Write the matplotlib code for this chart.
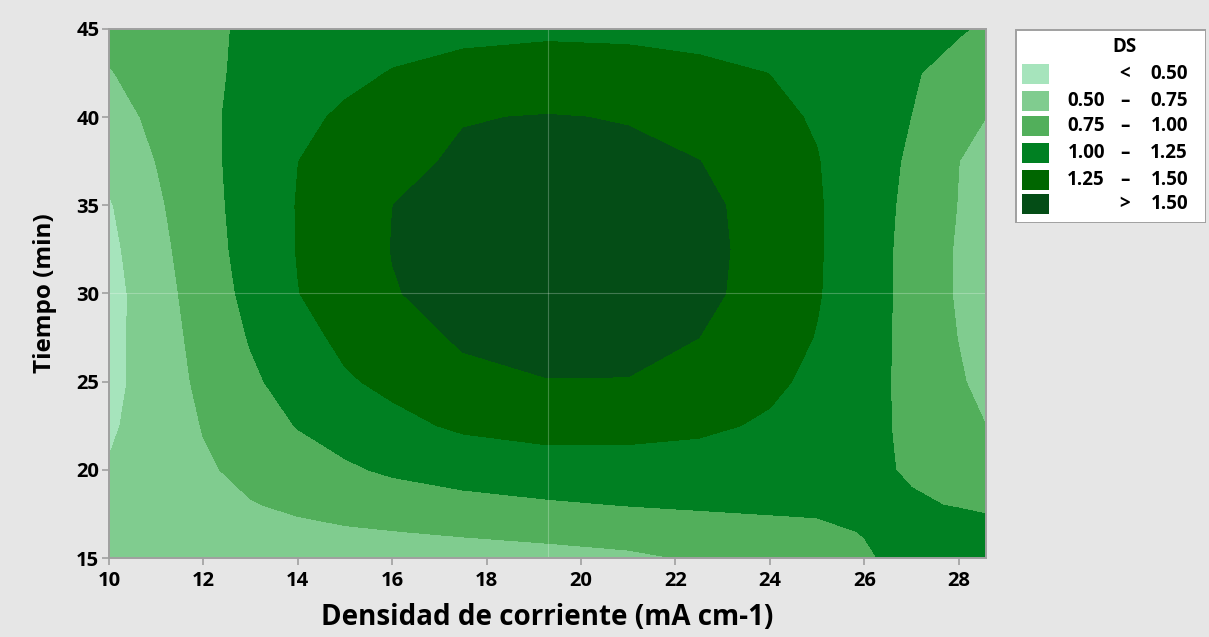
import matplotlib.pyplot as plt
from matplotlib.patches import Rectangle

# Contour surface of DS over current density (x) and time (y)
current_density = [10, 11, 12, 13, 14, 15, 16, 17.5, 19.29, 21, 22.5, 24, 25, 26, 27, 28, 28.58]
time_min = [15, 16.5, 18, 20, 22.5, 25, 27.5, 30, 32.5, 35, 37.5, 40, 42.5, 45]

# one row per time value, one column per current density value
ds_values = [
    [0.620, 0.630, 0.635, 0.640, 0.635, 0.630, 0.625, 0.635, 0.665, 0.705, 0.775, 0.866, 0.925, 0.984, 1.043, 1.100, 1.130],
    [0.580, 0.625, 0.660, 0.690, 0.708, 0.727, 0.745, 0.779, 0.817, 0.855, 0.900, 0.948, 0.974, 1.005, 1.030, 1.040, 1.030],
    [0.550, 0.620, 0.690, 0.740, 0.781, 0.829, 0.874, 0.927, 0.971, 1.005, 1.025, 1.030, 1.024, 1.015, 1.010, 0.995, 0.985],
    [0.515, 0.617, 0.724, 0.800, 0.889, 0.968, 1.034, 1.098, 1.146, 1.156, 1.148, 1.110, 1.066, 1.020, 0.990, 0.930, 0.887],
    [0.466, 0.614, 0.760, 0.888, 1.010, 1.095, 1.190, 1.285, 1.330, 1.320, 1.290, 1.222, 1.139, 1.056, 0.958, 0.826, 0.750],
    [0.427, 0.619, 0.801, 0.962, 1.097, 1.225, 1.300, 1.440, 1.495, 1.495, 1.397, 1.292, 1.201, 1.077, 0.940, 0.776, 0.680],
    [0.420, 0.631, 0.832, 1.016, 1.173, 1.300, 1.399, 1.530, 1.555, 1.540, 1.500, 1.346, 1.241, 1.093, 0.931, 0.744, 0.630],
    [0.410, 0.646, 0.868, 1.063, 1.245, 1.357, 1.490, 1.560, 1.620, 1.600, 1.560, 1.400, 1.266, 1.107, 0.928, 0.722, 0.610],
    [0.438, 0.676, 0.896, 1.089, 1.259, 1.380, 1.505, 1.580, 1.640, 1.620, 1.570, 1.410, 1.272, 1.110, 0.928, 0.724, 0.608],
    [0.479, 0.711, 0.916, 1.097, 1.260, 1.379, 1.499, 1.570, 1.620, 1.600, 1.560, 1.400, 1.271, 1.115, 0.942, 0.742, 0.626],
    [0.572, 0.754, 0.935, 1.095, 1.248, 1.345, 1.445, 1.530, 1.570, 1.540, 1.503, 1.358, 1.259, 1.118, 0.965, 0.752, 0.662],
    [0.654, 0.800, 0.950, 1.077, 1.196, 1.285, 1.350, 1.490, 1.510, 1.490, 1.379, 1.296, 1.231, 1.114, 0.998, 0.840, 0.750],
    [0.737, 0.846, 0.955, 1.045, 1.121, 1.197, 1.260, 1.310, 1.350, 1.340, 1.300, 1.248, 1.172, 1.097, 1.021, 0.922, 0.860],
    [0.820, 0.890, 0.960, 1.030, 1.090, 1.140, 1.170, 1.200, 1.210, 1.200, 1.180, 1.150, 1.120, 1.090, 1.050, 1.020, 0.970],
]

ds_levels = [0.50, 0.75, 1.00, 1.25, 1.50]
ds_colors = ["#A6E4BC", "#80CC8F", "#52AF5B", "#008022", "#006600", "#044D16"]
center_density = 19.29
center_time = 30

FONT = ["Open Sans", "DejaVu Sans"]
plt.rcParams["font.family"] = FONT

fig = plt.figure(figsize=(12.09, 6.37), dpi=100, facecolor="#E6E6E6")
ax = fig.add_axes([0.0902, 0.124, 0.7254, 0.8305])

bounds = [0.0] + ds_levels + [3.0]
ax.contourf(current_density, time_min, ds_values, levels=bounds, colors=ds_colors)

# reference lines through the design centre
ax.axvline(center_density, color="white", alpha=0.25, lw=0.8)
ax.axhline(center_time, color="white", alpha=0.25, lw=0.8)

ax.set_xlim(current_density[0], current_density[-1])
ax.set_ylim(time_min[0], time_min[-1])
ax.set_xticks(range(10, 29, 2))
ax.set_yticks(range(15, 46, 5))
ax.tick_params(direction="out", length=5, width=1.2, color="#A0A0A0",
               labelsize=14.5, pad=2)
ax.tick_params(axis="x", pad=4)
for lbl in ax.get_xticklabels() + ax.get_yticklabels():
    lbl.set_fontweight("bold")
for sp in ax.spines.values():
    sp.set_color("#A0A0A0")
    sp.set_linewidth(1.4)

ax.set_xlabel("Densidad de corriente (mA cm-1)", fontsize=20, fontweight="bold", labelpad=9)
ax.set_ylabel("Tiempo (min)", fontsize=17.5, fontweight="bold", labelpad=14)

# legend panel drawn in pixel-like units
lax = fig.add_axes([1015 / 1209, 1 - 223 / 637, 191 / 1209, 194 / 637])
lax.set_xlim(0, 191)
lax.set_ylim(194, 0)
lax.axis("off")
lax.add_patch(Rectangle((0.5, 0.5), 190, 193, facecolor="white", edgecolor="#A0A0A0", lw=1.4))
lax.text(110, 18, "DS", ha="center", va="center", fontsize=13.5, fontweight="bold")

row_y = [45, 72, 97, 124, 151, 175]
labels = []
labels.append(("", "<", f"{ds_levels[0]:.2f}"))
for lo, hi in zip(ds_levels[:-1], ds_levels[1:]):
    labels.append((f"{lo:.2f}", "\u2013", f"{hi:.2f}"))
labels.append(("", ">", f"{ds_levels[-1]:.2f}"))

for y, color, (left, mid, right) in zip(row_y, ds_colors, labels):
    lax.add_patch(Rectangle((7, y - 10), 27, 20, facecolor=color, edgecolor="none"))
    if left:
        lax.text(90, y, left, ha="right", va="center", fontsize=13.5, fontweight="bold")
    lax.text(110, y, mid, ha="center", va="center", fontsize=13.5, fontweight="bold")
    lax.text(173, y, right, ha="right", va="center", fontsize=13.5, fontweight="bold")

fig.savefig("out.png", dpi=100, facecolor=fig.get_facecolor())
